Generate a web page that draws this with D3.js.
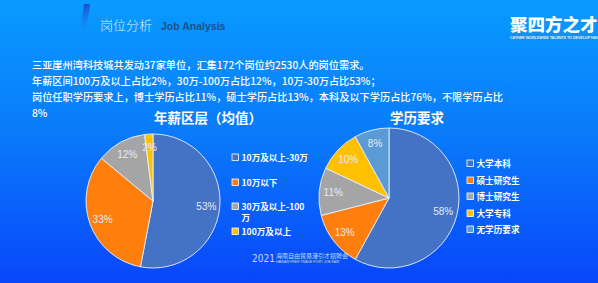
<!DOCTYPE html>
<html>
<head>
<meta charset="utf-8">
<script src="https://cdn.jsdelivr.net/npm/d3@7"></script>
<style>
  body { margin: 0; overflow: hidden; }
  svg { display: block; font-family: "Noto Sans CJK SC", "Noto Sans", sans-serif; }
</style>
</head>
<body>
<script>
// chart data
const introLines = [
  "三亚崖州湾科技城共发动37家单位，汇集172个岗位约2530人的岗位需求。",
  "年薪区间100万及以上占比2%，30万-100万占比12%，10万-30万占比53%；",
  "岗位任职学历要求上，博士学历占比11%，硕士学历占比13%，本科及以下学历占比76%，不限学历占比",
  "8%"
];
const salaryTitle = "年薪区层（均值）";
const salaryCats = ["10万及以上-30万", "10万以下", "30万及以上-100万", "100万及以上"];
const salaryVals = [53, 33, 12, 2];
const salaryColors = ["#4472C4", "#FF7F0E", "#A5A5A5", "#FFC000"];

const eduTitle = "学历要求";
const eduCats = ["大学本科", "硕士研究生", "博士研究生", "大学专科", "无学历要求"];
const eduVals = [58, 13, 11, 10, 8];
const eduColors = ["#4472C4", "#FF7F0E", "#A5A5A5", "#FFC000", "#5B9BD5"];

const width = 598, height = 283;

const svg = d3.select("body").append("svg")
  .attr("width", width)
  .attr("height", height);

const defs = svg.append("defs");
const bg = defs.append("linearGradient").attr("id", "bg")
  .attr("x1", 0).attr("y1", 0).attr("x2", 0).attr("y2", 1);
bg.append("stop").attr("offset", "0%").attr("stop-color", "rgb(8,155,255)");
bg.append("stop").attr("offset", "50%").attr("stop-color", "rgb(10,120,250)");
bg.append("stop").attr("offset", "100%").attr("stop-color", "rgb(8,70,250)");

const bar = defs.append("linearGradient").attr("id", "bar")
  .attr("x1", 0).attr("y1", 0).attr("x2", 0).attr("y2", 1);
bar.append("stop").attr("offset", "0%").attr("stop-color", "#1a4fd0");
bar.append("stop").attr("offset", "100%").attr("stop-color", "#1a8af0").attr("stop-opacity", 0.2);

svg.append("rect").attr("width", width).attr("height", height).attr("fill", "url(#bg)");

// header
svg.append("path")
  .attr("d", "M84,4 L90,4 L86,32 L80,32 Z")
  .attr("fill", "url(#bar)");
svg.append("text")
  .attr("x", 100).attr("y", 30)
  .attr("fill", "#d8ecff")
  .attr("font-size", 13)
  .attr("font-weight", 300)
  .text("岗位分析");
svg.append("text")
  .attr("x", 161).attr("y", 30)
  .attr("fill", "#1d4f8c")
  .attr("font-family", "Liberation Sans, Arial, sans-serif")
  .attr("font-weight", "bold")
  .attr("font-size", 10.5)
  .text("Job Analysis");

svg.append("text")
  .attr("x", 510).attr("y", 31)
  .attr("fill", "#fff")
  .attr("font-size", 17.5)
  .attr("font-weight", 900)
  .text("聚四方之才");
svg.append("text")
  .attr("x", 510).attr("y", 39)
  .attr("fill", "#e6f2ff")
  .attr("font-family", "Liberation Sans, Arial, sans-serif")
  .attr("font-size", 3.6)
  .attr("font-weight", "bold")
  .text("CATHER WORLDWIDE TALENTS TO DEVELOP HAINAN");

// intro text
svg.append("g").selectAll("text")
  .data(introLines)
  .enter()
  .append("text")
  .attr("x", 32)
  .attr("y", (d, i) => 69 + i * 16)
  .attr("fill", "#fff")
  .attr("font-size", 10.2)
  .attr("font-weight", 500)
  .text(d => d);

// wrap legend labels to a max width
function wrap(textSel, maxW) {
  textSel.each(function() {
    const t = d3.select(this);
    const chars = t.text().split("");
    const x = t.attr("x");
    t.text(null);
    let line = "";
    let tspan = t.append("tspan").attr("x", x);
    chars.forEach(c => {
      tspan.text(line + c);
      if (tspan.node().getComputedTextLength() > maxW && line.length) {
        tspan.text(line);
        line = c;
        tspan = t.append("tspan").attr("x", x).attr("dy", 11).text(c);
      } else {
        line += c;
      }
    });
  });
}

function drawPie(opts) {
  const g = svg.append("g").attr("transform", `translate(${opts.cx},${opts.cy})`);
  const pie = d3.pie().sort(null).value(d => d)(opts.vals);
  const arc = d3.arc().innerRadius(0).outerRadius(opts.r);
  const labelArc = d3.arc().innerRadius(opts.r * 0.8).outerRadius(opts.r * 0.8);

  g.selectAll("path")
    .data(pie)
    .enter()
    .append("path")
    .attr("d", arc)
    .attr("fill", (d, i) => opts.colors[i])
    .attr("stroke", "#e8f0ff")
    .attr("stroke-width", 0.9);

  g.selectAll("text")
    .data(pie)
    .enter()
    .append("text")
    .attr("transform", d => `translate(${labelArc.centroid(d)})`)
    .attr("text-anchor", "middle")
    .attr("dy", "0.35em")
    .attr("fill", "#e4ecf8")
    .attr("font-family", "Liberation Sans, Arial, sans-serif")
    .attr("font-size", 10)
    .text(d => d.data + "%");

  svg.append("text")
    .attr("x", opts.titleX).attr("y", 123)
    .attr("text-anchor", "middle")
    .attr("fill", "#fff")
    .attr("font-size", 13.5)
    .attr("font-weight", "bold")
    .text(opts.title);

  const leg = svg.append("g").selectAll("g")
    .data(opts.cats)
    .enter()
    .append("g")
    .attr("transform", (d, i) => `translate(${opts.legX},${opts.legY[i]})`);
  leg.append("rect")
    .attr("x", 0).attr("y", -4)
    .attr("width", 6.5).attr("height", 6.5)
    .attr("fill", (d, i) => opts.colors[i])
    .attr("stroke", "#fff")
    .attr("stroke-width", 0.8);
  leg.append("text")
    .attr("x", 9.5).attr("y", 3)
    .attr("fill", "#fff")
    .attr("font-size", 8.6)
    .attr("font-weight", "bold")
    .text(d => d)
    .call(wrap, opts.legW);
}

drawPie({
  cx: 153, cy: 201, r: 67,
  vals: salaryVals, colors: salaryColors, cats: salaryCats,
  title: salaryTitle, titleX: 208,
  legX: 232, legY: [158, 183, 207, 232], legW: 70
});

drawPie({
  cx: 389, cy: 198, r: 70,
  vals: eduVals, colors: eduColors, cats: eduCats,
  title: eduTitle, titleX: 417,
  legX: 467, legY: [164, 181, 197, 214, 230], legW: 100
});

// footer watermark
const foot = svg.append("g").attr("opacity", 0.75);
foot.append("text")
  .attr("x", 252).attr("y", 262)
  .attr("fill", "#fff")
  .attr("font-family", "DejaVu Sans Condensed, sans-serif")
  .attr("font-size", 10)
  .text("2021");
foot.append("text")
  .attr("x", 276).attr("y", 258)
  .attr("fill", "#fff")
  .attr("font-size", 6)
  .text("海南自由贸易港引才招聘会");
foot.append("text")
  .attr("x", 276).attr("y", 263)
  .attr("fill", "#fff")
  .attr("font-family", "Liberation Sans, Arial, sans-serif")
  .attr("font-size", 3.5)
  .text("HAINAN FREE TRADE PORT JOB FAIR");
</script>
</body>
</html>
